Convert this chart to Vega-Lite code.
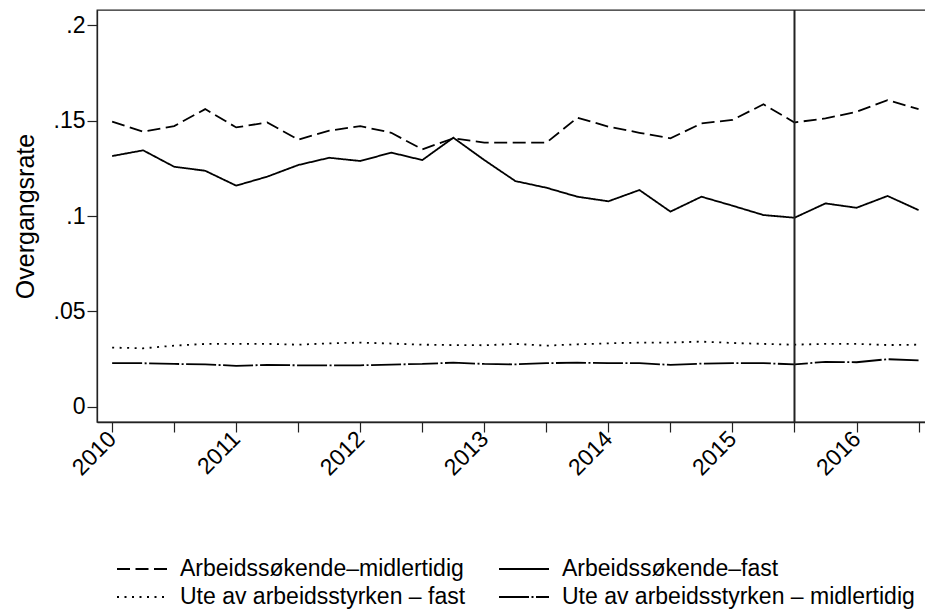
{
  "$schema": "https://vega.github.io/schema/vega-lite/v6.json",
  "autosize": {"type": "none"},
  "padding": {"left": 97, "top": 10, "right": 0, "bottom": 189},
  "width": 829,
  "height": 412,
  "background": "white",
  "config": {
    "font": "Liberation Sans",
    "view": {"stroke": "#222", "strokeWidth": 1.3},
    "axis": {"grid": false, "domainColor": "#222", "tickColor": "#222", "labelColor": "#000", "titleColor": "#000", "labelFontSize": 23, "titleFontSize": 25, "titleFontWeight": "normal", "tickSize": 10, "domainWidth": 1.3, "tickWidth": 1.2}
  },
  "datasets": {
    "rates": [
      {"t": 2010.00, "s": "Arbeidssøkende–midlertidig", "v": 0.1494},
      {"t": 2010.25, "s": "Arbeidssøkende–midlertidig", "v": 0.1442},
      {"t": 2010.50, "s": "Arbeidssøkende–midlertidig", "v": 0.1471},
      {"t": 2010.75, "s": "Arbeidssøkende–midlertidig", "v": 0.1560},
      {"t": 2011.00, "s": "Arbeidssøkende–midlertidig", "v": 0.1464},
      {"t": 2011.25, "s": "Arbeidssøkende–midlertidig", "v": 0.1490},
      {"t": 2011.50, "s": "Arbeidssøkende–midlertidig", "v": 0.1400},
      {"t": 2011.75, "s": "Arbeidssøkende–midlertidig", "v": 0.1447},
      {"t": 2012.00, "s": "Arbeidssøkende–midlertidig", "v": 0.1471},
      {"t": 2012.25, "s": "Arbeidssøkende–midlertidig", "v": 0.1436},
      {"t": 2012.50, "s": "Arbeidssøkende–midlertidig", "v": 0.1349},
      {"t": 2012.75, "s": "Arbeidssøkende–midlertidig", "v": 0.1407},
      {"t": 2013.00, "s": "Arbeidssøkende–midlertidig", "v": 0.1384},
      {"t": 2013.25, "s": "Arbeidssøkende–midlertidig", "v": 0.1384},
      {"t": 2013.50, "s": "Arbeidssøkende–midlertidig", "v": 0.1384},
      {"t": 2013.75, "s": "Arbeidssøkende–midlertidig", "v": 0.1515},
      {"t": 2014.00, "s": "Arbeidssøkende–midlertidig", "v": 0.1468},
      {"t": 2014.25, "s": "Arbeidssøkende–midlertidig", "v": 0.1436},
      {"t": 2014.50, "s": "Arbeidssøkende–midlertidig", "v": 0.1407},
      {"t": 2014.75, "s": "Arbeidssøkende–midlertidig", "v": 0.1485},
      {"t": 2015.00, "s": "Arbeidssøkende–midlertidig", "v": 0.1503},
      {"t": 2015.25, "s": "Arbeidssøkende–midlertidig", "v": 0.1585},
      {"t": 2015.50, "s": "Arbeidssøkende–midlertidig", "v": 0.1490},
      {"t": 2015.75, "s": "Arbeidssøkende–midlertidig", "v": 0.1511},
      {"t": 2016.00, "s": "Arbeidssøkende–midlertidig", "v": 0.1546},
      {"t": 2016.25, "s": "Arbeidssøkende–midlertidig", "v": 0.1607},
      {"t": 2016.50, "s": "Arbeidssøkende–midlertidig", "v": 0.1560},
      {"t": 2010.00, "s": "Arbeidssøkende–fast", "v": 0.1314},
      {"t": 2010.25, "s": "Arbeidssøkende–fast", "v": 0.1344},
      {"t": 2010.50, "s": "Arbeidssøkende–fast", "v": 0.1258},
      {"t": 2010.75, "s": "Arbeidssøkende–fast", "v": 0.1237},
      {"t": 2011.00, "s": "Arbeidssøkende–fast", "v": 0.1159},
      {"t": 2011.25, "s": "Arbeidssøkende–fast", "v": 0.1206},
      {"t": 2011.50, "s": "Arbeidssøkende–fast", "v": 0.1267},
      {"t": 2011.75, "s": "Arbeidssøkende–fast", "v": 0.1305},
      {"t": 2012.00, "s": "Arbeidssøkende–fast", "v": 0.1288},
      {"t": 2012.25, "s": "Arbeidssøkende–fast", "v": 0.1332},
      {"t": 2012.50, "s": "Arbeidssøkende–fast", "v": 0.1293},
      {"t": 2012.75, "s": "Arbeidssøkende–fast", "v": 0.1410},
      {"t": 2013.00, "s": "Arbeidssøkende–fast", "v": 0.1293},
      {"t": 2013.25, "s": "Arbeidssøkende–fast", "v": 0.1183},
      {"t": 2013.50, "s": "Arbeidssøkende–fast", "v": 0.1148},
      {"t": 2013.75, "s": "Arbeidssøkende–fast", "v": 0.1101},
      {"t": 2014.00, "s": "Arbeidssøkende–fast", "v": 0.1077},
      {"t": 2014.25, "s": "Arbeidssøkende–fast", "v": 0.1136},
      {"t": 2014.50, "s": "Arbeidssøkende–fast", "v": 0.1023},
      {"t": 2014.75, "s": "Arbeidssøkende–fast", "v": 0.1101},
      {"t": 2015.00, "s": "Arbeidssøkende–fast", "v": 0.1054},
      {"t": 2015.25, "s": "Arbeidssøkende–fast", "v": 0.1005},
      {"t": 2015.50, "s": "Arbeidssøkende–fast", "v": 0.0991},
      {"t": 2015.75, "s": "Arbeidssøkende–fast", "v": 0.1066},
      {"t": 2016.00, "s": "Arbeidssøkende–fast", "v": 0.1043},
      {"t": 2016.25, "s": "Arbeidssøkende–fast", "v": 0.1105},
      {"t": 2016.50, "s": "Arbeidssøkende–fast", "v": 0.1031},
      {"t": 2010.00, "s": "Ute av arbeidsstyrken – fast", "v": 0.0311},
      {"t": 2010.25, "s": "Ute av arbeidsstyrken – fast", "v": 0.0307},
      {"t": 2010.50, "s": "Ute av arbeidsstyrken – fast", "v": 0.0321},
      {"t": 2010.75, "s": "Ute av arbeidsstyrken – fast", "v": 0.0330},
      {"t": 2011.00, "s": "Ute av arbeidsstyrken – fast", "v": 0.0330},
      {"t": 2011.25, "s": "Ute av arbeidsstyrken – fast", "v": 0.0330},
      {"t": 2011.50, "s": "Ute av arbeidsstyrken – fast", "v": 0.0326},
      {"t": 2011.75, "s": "Ute av arbeidsstyrken – fast", "v": 0.0333},
      {"t": 2012.00, "s": "Ute av arbeidsstyrken – fast", "v": 0.0337},
      {"t": 2012.25, "s": "Ute av arbeidsstyrken – fast", "v": 0.0332},
      {"t": 2012.50, "s": "Ute av arbeidsstyrken – fast", "v": 0.0326},
      {"t": 2012.75, "s": "Ute av arbeidsstyrken – fast", "v": 0.0324},
      {"t": 2013.00, "s": "Ute av arbeidsstyrken – fast", "v": 0.0323},
      {"t": 2013.25, "s": "Ute av arbeidsstyrken – fast", "v": 0.0330},
      {"t": 2013.50, "s": "Ute av arbeidsstyrken – fast", "v": 0.0321},
      {"t": 2013.75, "s": "Ute av arbeidsstyrken – fast", "v": 0.0328},
      {"t": 2014.00, "s": "Ute av arbeidsstyrken – fast", "v": 0.0333},
      {"t": 2014.25, "s": "Ute av arbeidsstyrken – fast", "v": 0.0337},
      {"t": 2014.50, "s": "Ute av arbeidsstyrken – fast", "v": 0.0337},
      {"t": 2014.75, "s": "Ute av arbeidsstyrken – fast", "v": 0.0342},
      {"t": 2015.00, "s": "Ute av arbeidsstyrken – fast", "v": 0.0335},
      {"t": 2015.25, "s": "Ute av arbeidsstyrken – fast", "v": 0.0330},
      {"t": 2015.50, "s": "Ute av arbeidsstyrken – fast", "v": 0.0326},
      {"t": 2015.75, "s": "Ute av arbeidsstyrken – fast", "v": 0.0330},
      {"t": 2016.00, "s": "Ute av arbeidsstyrken – fast", "v": 0.0330},
      {"t": 2016.25, "s": "Ute av arbeidsstyrken – fast", "v": 0.0324},
      {"t": 2016.50, "s": "Ute av arbeidsstyrken – fast", "v": 0.0326},
      {"t": 2010.00, "s": "Ute av arbeidsstyrken – midlertidig", "v": 0.0229},
      {"t": 2010.25, "s": "Ute av arbeidsstyrken – midlertidig", "v": 0.0229},
      {"t": 2010.50, "s": "Ute av arbeidsstyrken – midlertidig", "v": 0.0225},
      {"t": 2010.75, "s": "Ute av arbeidsstyrken – midlertidig", "v": 0.0223},
      {"t": 2011.00, "s": "Ute av arbeidsstyrken – midlertidig", "v": 0.0215},
      {"t": 2011.25, "s": "Ute av arbeidsstyrken – midlertidig", "v": 0.0220},
      {"t": 2011.50, "s": "Ute av arbeidsstyrken – midlertidig", "v": 0.0218},
      {"t": 2011.75, "s": "Ute av arbeidsstyrken – midlertidig", "v": 0.0218},
      {"t": 2012.00, "s": "Ute av arbeidsstyrken – midlertidig", "v": 0.0218},
      {"t": 2012.25, "s": "Ute av arbeidsstyrken – midlertidig", "v": 0.0222},
      {"t": 2012.50, "s": "Ute av arbeidsstyrken – midlertidig", "v": 0.0225},
      {"t": 2012.75, "s": "Ute av arbeidsstyrken – midlertidig", "v": 0.0232},
      {"t": 2013.00, "s": "Ute av arbeidsstyrken – midlertidig", "v": 0.0225},
      {"t": 2013.25, "s": "Ute av arbeidsstyrken – midlertidig", "v": 0.0223},
      {"t": 2013.50, "s": "Ute av arbeidsstyrken – midlertidig", "v": 0.0229},
      {"t": 2013.75, "s": "Ute av arbeidsstyrken – midlertidig", "v": 0.0232},
      {"t": 2014.00, "s": "Ute av arbeidsstyrken – midlertidig", "v": 0.0229},
      {"t": 2014.25, "s": "Ute av arbeidsstyrken – midlertidig", "v": 0.0229},
      {"t": 2014.50, "s": "Ute av arbeidsstyrken – midlertidig", "v": 0.0220},
      {"t": 2014.75, "s": "Ute av arbeidsstyrken – midlertidig", "v": 0.0227},
      {"t": 2015.00, "s": "Ute av arbeidsstyrken – midlertidig", "v": 0.0229},
      {"t": 2015.25, "s": "Ute av arbeidsstyrken – midlertidig", "v": 0.0229},
      {"t": 2015.50, "s": "Ute av arbeidsstyrken – midlertidig", "v": 0.0223},
      {"t": 2015.75, "s": "Ute av arbeidsstyrken – midlertidig", "v": 0.0236},
      {"t": 2016.00, "s": "Ute av arbeidsstyrken – midlertidig", "v": 0.0234},
      {"t": 2016.25, "s": "Ute av arbeidsstyrken – midlertidig", "v": 0.0250},
      {"t": 2016.50, "s": "Ute av arbeidsstyrken – midlertidig", "v": 0.0244}
    ],
    "marker": [{"t": 2015.5}]
  },
  "layer": [
    {
      "data": {"name": "rates"},
      "mark": {"type": "line", "color": "black", "strokeWidth": 1.8},
      "encoding": {
        "x": {
          "field": "t", "type": "quantitative",
          "scale": {"domain": [2009.878, 2016.56], "nice": false, "zero": false},
          "axis": {
            "title": null,
            "values": [2010, 2010.25, 2010.5, 2010.75, 2011, 2011.25, 2011.5, 2011.75, 2012, 2012.25, 2012.5, 2012.75, 2013, 2013.25, 2013.5, 2013.75, 2014, 2014.25, 2014.5, 2014.75, 2015, 2015.25, 2015.5, 2015.75, 2016, 2016.25, 2016.5],
            "labelExpr": "datum.value % 1 == 0 ? format(datum.value, 'd') : ''",
            "labelAngle": -45,
            "labelAlign": "right",
            "labelBaseline": "middle",
            "labelOverlap": false,
            "labelFlush": false,
            "labelPadding": 3
          }
        },
        "y": {
          "field": "v", "type": "quantitative",
          "scale": {"domain": [-0.0079, 0.2079], "nice": false, "zero": false},
          "axis": {
            "title": "Overgangsrate",
            "values": [0, 0.05, 0.1, 0.15, 0.2],
            "labelExpr": "datum.value == 0 ? '0' : replace(format(datum.value, '~g'), '0.', '.')",
            "labelPadding": 2,
            "titlePadding": 15
          }
        },
        "detail": {"field": "s"},
        "strokeDash": {
          "field": "s", "type": "nominal",
          "scale": {
            "domain": ["Arbeidssøkende–midlertidig", "Arbeidssøkende–fast", "Ute av arbeidsstyrken – fast", "Ute av arbeidsstyrken – midlertidig"],
            "range": [[13, 5.5], [1, 0], [2, 5.5], [30, 2.5, 2, 2.5]]
          },
          "legend": {
            "title": null,
            "orient": "none",
            "direction": "horizontal",
            "legendX": 19,
            "legendY": 545,
            "columns": 2,
            "columnPadding": 32,
            "rowPadding": 0,
            "clipHeight": 28,
            "symbolType": "stroke",
            "symbolSize": 2500,
            "symbolStrokeWidth": 1.8,
            "symbolStrokeColor": "black",
            "labelFontSize": 23,
            "labelColor": "#000",
            "labelOffset": 12,
            "labelLimit": 500
          }
        }
      }
    },
    {
      "data": {"name": "marker"},
      "mark": {"type": "rule", "color": "#222", "strokeWidth": 2},
      "encoding": {
        "x": {"field": "t", "type": "quantitative"}
      }
    }
  ]
}
